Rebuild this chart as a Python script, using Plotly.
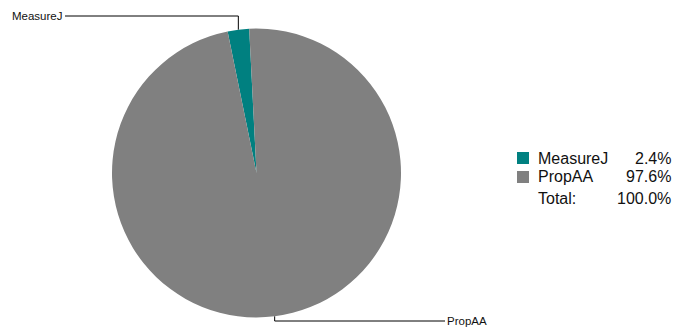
import math
import plotly.graph_objects as go

labels = ["MeasureJ", "PropAA"]
values = [2.4, 97.6]
colors = ["#008080", "#808080"]

OFF = 8  # default page body margin
W, H = 691 - OFF, 329 - OFF
CX, CY, R = 256.5, 173.0, 144.5
START = -2.9  # degrees clockwise from 12 o'clock where the first slice ends

def px(x):
    return (x - OFF) / W

def py(y):
    return 1 - (y - OFF) / H

total = sum(values)
first_span = values[0] / total * 360

fig = go.Figure(go.Pie(
    labels=labels, values=values, sort=False, direction="counterclockwise",
    rotation=START - first_span, marker=dict(colors=colors, line=dict(width=0)),
    textinfo="none", hoverinfo="label+percent", showlegend=False,
    domain=dict(x=[px(CX - R), px(CX + R)], y=[py(CY + R), py(CY - R)]),
))

shapes = []
annotations = []
font_small = dict(family="Liberation Sans, Arial, sans-serif", size=11.5, color="#111")
font_leg = dict(family="Liberation Sans, Arial, sans-serif", size=16, color="#111")

# leader lines computed from slice mid-angles
label_pos = [(16, 65, "right"), (321, 445, "left")]
acc = 0.0
for i, v in enumerate(values):
    frac = v / total
    mid = START - (acc + frac / 2) * 360  # clockwise angle from top
    acc += frac
    a = math.radians(mid)
    x0 = CX + R * math.sin(a)
    y0 = CY - R * math.cos(a)
    ly, lx, side = label_pos[i]
    path = f"M{px(x0)},{py(y0)} L{px(x0)},{py(ly)} L{px(lx)},{py(ly)}"
    shapes.append(dict(type="path", xref="paper", yref="paper", path=path,
                       line=dict(color="#000", width=1)))
    annotations.append(dict(xref="paper", yref="paper", x=px(lx), y=py(ly),
                            text=labels[i], showarrow=False, font=font_small,
                            xanchor="right" if side == "right" else "left",
                            yanchor="middle"))

# custom legend
leg_y = [158, 177]
for i, lab in enumerate(labels):
    y = leg_y[i]
    shapes.append(dict(type="rect", xref="paper", yref="paper",
                       x0=px(517), x1=px(529), y0=py(y - 6), y1=py(y + 6),
                       fillcolor=colors[i], line=dict(width=0)))
    annotations.append(dict(xref="paper", yref="paper", x=px(536), y=py(y),
                            text=lab, showarrow=False, font=font_leg,
                            xanchor="left", yanchor="middle"))
    annotations.append(dict(xref="paper", yref="paper", x=px(673), y=py(y),
                            text=f"{values[i] / total * 100:.1f}%", showarrow=False,
                            font=font_leg, xanchor="right", yanchor="middle"))
annotations.append(dict(xref="paper", yref="paper", x=px(536), y=py(199),
                        text="Total:", showarrow=False, font=font_leg,
                        xanchor="left", yanchor="middle"))
annotations.append(dict(xref="paper", yref="paper", x=px(673), y=py(199),
                        text=f"{total / total * 100:.1f}%", showarrow=False,
                        font=font_leg, xanchor="right", yanchor="middle"))

fig.update_layout(width=W, height=H, margin=dict(l=0, r=0, t=0, b=0),
                  paper_bgcolor="white", plot_bgcolor="white",
                  shapes=shapes, annotations=annotations)
fig.write_html("out.html")
